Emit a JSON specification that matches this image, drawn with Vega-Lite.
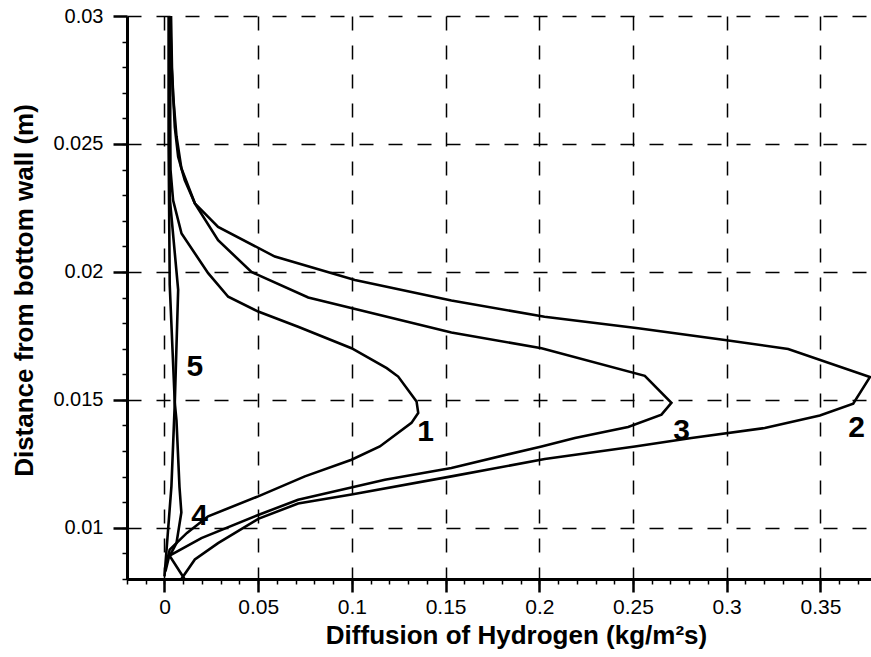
{
  "$schema": "https://vega.github.io/schema/vega-lite/v6.json",
  "autosize": "none",
  "width": 744,
  "height": 563,
  "padding": {"top": 16, "left": 127, "right": 0, "bottom": 78},
  "background": "white",
  "config": {
    "view": {"stroke": null},
    "font": "Liberation Sans",
    "axis": {"labelFont": "Liberation Sans", "titleFont": "Liberation Sans", "labelColor": "black", "titleColor": "black", "domainColor": "black", "tickColor": "black"}
  },
  "datasets": {
    "curves": [
      {"c": "1", "x": 0.001, "y": 0.0086}, {"c": "1", "x": 0.0028, "y": 0.00915}, {"c": "1", "x": 0.012, "y": 0.0098}, {"c": "1", "x": 0.0233, "y": 0.01045}, {"c": "1", "x": 0.05, "y": 0.01123}, {"c": "1", "x": 0.0749, "y": 0.01201}, {"c": "1", "x": 0.0998, "y": 0.01266}, {"c": "1", "x": 0.1149, "y": 0.01318}, {"c": "1", "x": 0.1318, "y": 0.0141}, {"c": "1", "x": 0.1354, "y": 0.01449}, {"c": "1", "x": 0.1345, "y": 0.01494}, {"c": "1", "x": 0.1247, "y": 0.01591}, {"c": "1", "x": 0.1186, "y": 0.01624}, {"c": "1", "x": 0.0998, "y": 0.01702}, {"c": "1", "x": 0.0713, "y": 0.01786}, {"c": "1", "x": 0.05, "y": 0.01845}, {"c": "1", "x": 0.034, "y": 0.01903}, {"c": "1", "x": 0.0233, "y": 0.01995}, {"c": "1", "x": 0.0091, "y": 0.0215}, {"c": "1", "x": 0.0046, "y": 0.0228}, {"c": "1", "x": 0.0032, "y": 0.024}, {"c": "1", "x": 0.003, "y": 0.026}, {"c": "1", "x": 0.003, "y": 0.03},
      {"c": "2", "x": 0.009, "y": 0.008}, {"c": "2", "x": 0.0162, "y": 0.00876}, {"c": "2", "x": 0.0286, "y": 0.0094}, {"c": "2", "x": 0.05, "y": 0.01035}, {"c": "2", "x": 0.0713, "y": 0.01095}, {"c": "2", "x": 0.0998, "y": 0.0113}, {"c": "2", "x": 0.1531, "y": 0.01201}, {"c": "2", "x": 0.2029, "y": 0.01269}, {"c": "2", "x": 0.251, "y": 0.01318}, {"c": "2", "x": 0.2812, "y": 0.01351}, {"c": "2", "x": 0.3203, "y": 0.0139}, {"c": "2", "x": 0.3497, "y": 0.01439}, {"c": "2", "x": 0.3675, "y": 0.01485}, {"c": "2", "x": 0.3764, "y": 0.01589}, {"c": "2", "x": 0.3328, "y": 0.01699}, {"c": "2", "x": 0.299, "y": 0.01734}, {"c": "2", "x": 0.2528, "y": 0.0178}, {"c": "2", "x": 0.2028, "y": 0.01825}, {"c": "2", "x": 0.1531, "y": 0.01888}, {"c": "2", "x": 0.1016, "y": 0.01968}, {"c": "2", "x": 0.0589, "y": 0.0206}, {"c": "2", "x": 0.0286, "y": 0.02176}, {"c": "2", "x": 0.0162, "y": 0.02268}, {"c": "2", "x": 0.0108, "y": 0.02359}, {"c": "2", "x": 0.0073, "y": 0.0245}, {"c": "2", "x": 0.0055, "y": 0.02567}, {"c": "2", "x": 0.0046, "y": 0.02697}, {"c": "2", "x": 0.004, "y": 0.028}, {"c": "2", "x": 0.0035, "y": 0.03},
      {"c": "3", "x": 0.0005, "y": 0.0083}, {"c": "3", "x": 0.0025, "y": 0.0089}, {"c": "3", "x": 0.0197, "y": 0.0096}, {"c": "3", "x": 0.05, "y": 0.0105}, {"c": "3", "x": 0.0713, "y": 0.0111}, {"c": "3", "x": 0.1176, "y": 0.01188}, {"c": "3", "x": 0.1531, "y": 0.01234}, {"c": "3", "x": 0.2012, "y": 0.01318}, {"c": "3", "x": 0.219, "y": 0.01351}, {"c": "3", "x": 0.2474, "y": 0.01394}, {"c": "3", "x": 0.2652, "y": 0.01442}, {"c": "3", "x": 0.2705, "y": 0.01488}, {"c": "3", "x": 0.2563, "y": 0.01594}, {"c": "3", "x": 0.2012, "y": 0.01702}, {"c": "3", "x": 0.1531, "y": 0.01763}, {"c": "3", "x": 0.0767, "y": 0.019}, {"c": "3", "x": 0.0464, "y": 0.02}, {"c": "3", "x": 0.0286, "y": 0.02124}, {"c": "3", "x": 0.0162, "y": 0.02268}, {"c": "3", "x": 0.009, "y": 0.02405}, {"c": "3", "x": 0.0064, "y": 0.0253}, {"c": "3", "x": 0.0046, "y": 0.0269}, {"c": "3", "x": 0.0038, "y": 0.028}, {"c": "3", "x": 0.003, "y": 0.03},
      {"c": "4", "x": 0.0, "y": 0.0081}, {"c": "4", "x": 0.001, "y": 0.00904}, {"c": "4", "x": 0.0037, "y": 0.01162}, {"c": "4", "x": 0.0055, "y": 0.01488}, {"c": "4", "x": 0.0028, "y": 0.0195}, {"c": "4", "x": 0.0022, "y": 0.025}, {"c": "4", "x": 0.0022, "y": 0.03},
      {"c": "5", "x": 0.0107, "y": 0.008}, {"c": "5", "x": 0.0028, "y": 0.0089}, {"c": "5", "x": 0.0064, "y": 0.0094}, {"c": "5", "x": 0.009, "y": 0.0106}, {"c": "5", "x": 0.008, "y": 0.0116}, {"c": "5", "x": 0.0064, "y": 0.0142}, {"c": "5", "x": 0.0055, "y": 0.01488}, {"c": "5", "x": 0.0073, "y": 0.0193}, {"c": "5", "x": 0.0028, "y": 0.0229}, {"c": "5", "x": 0.003, "y": 0.03}
    ],
    "labels": [
      {"t": "1", "x": 0.1393, "y": 0.01376},
      {"t": "2", "x": 0.3693, "y": 0.01391},
      {"t": "3", "x": 0.2759, "y": 0.01377},
      {"t": "4", "x": 0.0188, "y": 0.01045},
      {"t": "5", "x": 0.0162, "y": 0.0163}
    ]
  },
  "resolve": {"axis": {"x": "independent", "y": "independent"}},
  "layer": [
    {
      "data": {"name": "curves"},
      "mark": {"type": "line", "color": "black", "strokeWidth": 2.6, "clip": true},
      "encoding": {
        "x": {"field": "x", "type": "quantitative",
          "scale": {"domain": [-0.02, 0.377], "nice": false, "zero": false},
          "axis": {"orient": "bottom", "values": [0, 0.05, 0.1, 0.15, 0.2, 0.25, 0.3, 0.35],
            "format": "~g", "labelFontSize": 21, "labelPadding": 4, "tickSize": 13, "tickWidth": 2.5,
            "domainWidth": 3, "grid": true, "gridColor": "black", "gridWidth": 1.5, "gridDash": [14, 15],
            "title": "Diffusion of Hydrogen (kg/m²s)", "titleFontSize": 26, "titleFontWeight": "bold",
            "titleX": 389, "titleY": 64, "titleBaseline": "alphabetic", "titleAnchor": null}},
        "y": {"field": "y", "type": "quantitative",
          "scale": {"domain": [0.008, 0.03], "nice": false, "zero": false},
          "axis": {"orient": "left", "values": [0.01, 0.015, 0.02, 0.025, 0.03],
            "format": "~g", "labelFontSize": 20, "labelPadding": 10, "tickSize": 14, "tickWidth": 2.5,
            "domainWidth": 3, "grid": true, "gridColor": "black", "gridWidth": 1.5, "gridDash": [14, 15],
            "title": "Distance from bottom wall (m)", "titleFontSize": 26, "titleFontWeight": "bold",
            "titleX": -95, "titleY": 274, "titleAngle": -90, "titleAlign": "center", "titleBaseline": "alphabetic"}},
        "detail": {"field": "c", "type": "nominal"},
        "order": {"field": "y", "type": "quantitative"}
      }
    },
    {
      "data": {"name": "labels"},
      "mark": {"type": "text", "font": "Liberation Sans", "fontWeight": "bold", "fontSize": 30, "align": "center", "baseline": "middle", "color": "black"},
      "encoding": {
        "x": {"field": "x", "type": "quantitative",
          "axis": {"orient": "bottom", "values": [-0.02, -0.01, 0, 0.01, 0.02, 0.03, 0.04, 0.05, 0.06, 0.07, 0.08, 0.09, 0.1, 0.11, 0.12, 0.13, 0.14, 0.15, 0.16, 0.17, 0.18, 0.19, 0.2, 0.21, 0.22, 0.23, 0.24, 0.25, 0.26, 0.27, 0.28, 0.29, 0.3, 0.31, 0.32, 0.33, 0.34, 0.35, 0.36, 0.37],
            "labels": false, "domain": false, "grid": false, "tickSize": 5, "tickWidth": 1.5, "title": null}},
        "y": {"field": "y", "type": "quantitative",
          "axis": {"orient": "left", "values": [0.008, 0.009, 0.01, 0.011, 0.012, 0.013, 0.014, 0.015, 0.016, 0.017, 0.018, 0.019, 0.02, 0.021, 0.022, 0.023, 0.024, 0.025, 0.026, 0.027, 0.028, 0.029],
            "labels": false, "domain": false, "grid": false, "tickSize": 5, "tickWidth": 1.5, "title": null}},
        "text": {"field": "t"}
      }
    },
    {
      "mark": {"type": "rule", "color": "black", "strokeWidth": 3},
      "encoding": {"y": {"datum": 0.03, "axis": null}}
    }
  ]
}
